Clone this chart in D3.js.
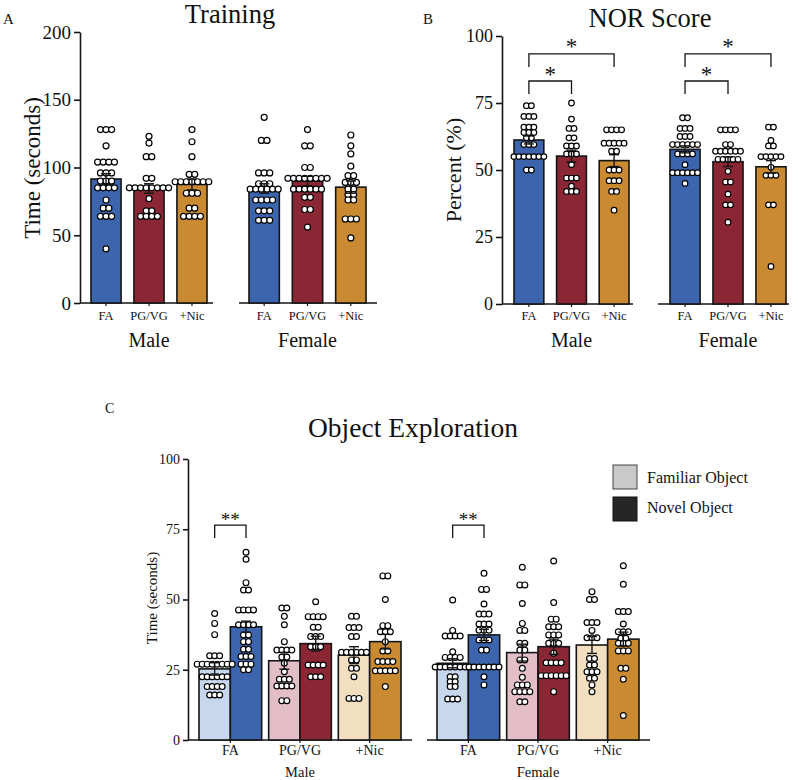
<!DOCTYPE html>
<html><head><meta charset="utf-8">
<script src="https://cdn.jsdelivr.net/npm/d3@7"></script>
<style>
body{margin:0;background:#fff}
svg{display:block}
text{font-family:"Liberation Serif","Times New Roman",serif;fill:#111}
</style>
</head><body>
<svg id="chart" width="798" height="780"></svg>
<script>
// ---------- DATA ----------
const groups = ["FA", "PG/VG", "+Nic"];
const sexes = ["Male", "Female"];
const objects = ["Familiar Object", "Novel Object"];

// Panel A: Training (seconds)
const trainTicks = [0, 50, 100, 150, 200];
const trainMaleMean = [91.5, 84.5, 87.5];
const trainMaleSem = [4, 3.5, 4];
const trainFemaleMean = [84.5, 90, 85.5];
const trainFemaleSem = [3.5, 3.5, 4.5];
const trainMaleDots = [
  [128,128,128,116,104,104,104,104,96,96,96,90,90,90,85,85,85,85,76,70,70,64,64,64,40],
  [123,118,108,108,92,92,85,85,85,85,85,85,85,85,77,68,68,64,64,64,64],
  [128,119,108,95,95,89.5,89.5,89.5,89.5,89.5,89.5,89.5,81,81,81,70,70,64,64,64,64]
];
const trainFemaleDots = [
  [137,120,120,96,96,96,88,88,88,84,84,84,84,84,84,76,76,76,76,68,68,68,61,61,61],
  [128,116,116,100,100,92,92,92,92,92,92,92,92,84,84,84,84,84,84,78,78,69,69,56],
  [124,116,110,101,94,94,89,89,89,84,84,80,80,76,76,62,62,62,48]
];

// Panel B: NOR score (%)
const norTicks = [0, 25, 50, 75, 100];
const norMaleMean = [61.2, 55.2, 53.5];
const norMaleSem = [1.5, 2.2, 2.2];
const norFemaleMean = [57.7, 53.1, 51.2];
const norFemaleSem = [1.3, 1.8, 2.3];
const norMaleDots = [
  [74,74,70,70,70,66,66,66,64,64,64,62,62,59.5,59.5,59.5,55,55,55,55,55,55,55,50,50],
  [75,69,65.5,65.5,62,62,59,59,59,56,56,56,52,47,47,47,44,42,42,42],
  [65,65,65,65,60,60,60,60,60,57,57,50,50,50,46,46,46,42,42,35]
];
const norFemaleDots = [
  [69.5,69.5,65.5,65.5,65.5,62.5,62.5,62.5,59.5,59.5,59.5,59.5,59.5,59.5,56,56,56,56,52,49,49,49,49,49,49,45],
  [65,65,65,65,59.5,59.5,57,57,57,57,57,57,54,54,54,54,54,49.5,45.5,45.5,41,37,37,30.5],
  [66,66,61,59,59,55,55,55,55,55,51,48,48,48,37,37,14]
];

// Panel C: Object exploration (seconds)
const objTicks = [0, 25, 50, 75, 100];
const objMaleFamMean = [25.3, 28.2, 30.2];
const objMaleFamSem = [2.2, 3, 3];
const objMaleNovMean = [40.3, 34.3, 35];
const objMaleNovSem = [2, 2.6, 2.6];
const objFemaleFamMean = [27.3, 31.1, 33.8];
const objFemaleFamSem = [1.6, 3, 3];
const objFemaleNovMean = [37.4, 33.2, 35.9];
const objFemaleNovSem = [2, 2.7, 2.5];
const objMaleFamDots = [
  [45,41.5,37.5,30,30,30,27,27,27,27,27,27,27,27,22.5,22.5,22.5,22.5,22.5,22.5,19,19,19,19,16,16,16],
  [47,47,44,41,35,32,32,32,32,29.5,29.5,27.3,24.3,21.6,21.6,21.6,19.2,19.2,19.2,19.2,14,14],
  [44,44,40,40,40,36.8,36.8,31.2,31.2,31.2,31.2,31.2,31.2,28.5,28.5,25.5,25.5,22.5,14.8,14.8,14.8]
];
const objMaleNovDots = [
  [66.8,64.3,56,53.4,53.4,46.3,46.3,46.3,46.3,41,41,41,41,37.4,37.4,35,35,32.3,32.3,29.7,29.7,29.7,27,27,27,25,25],
  [49.2,43.9,43.9,43.9,43.9,40.1,40.1,36.8,36.8,36.8,33.2,33.2,33.2,26.7,26.7,26.7,26.7,22.5,22.5,22.5],
  [58.4,58.4,50,40.7,40.7,38.5,38.5,38.5,35,31.7,31.7,27.9,27.9,27.9,27.9,24.6,24.6,24.6,24.6,24.6,19]
];
const objFemaleFamDots = [
  [49.8,39,37,37,37,37,31.4,29.4,29.4,29.4,29.4,26,26,26,26,26,26,26,26,22.5,22.5,20.7,20.7,19,19,14.6,14.6,14.6],
  [61.5,55.2,55.2,48.6,41.5,39,39,34.4,34.4,32,32,28.5,28.5,25.5,22.3,19.6,19.6,19.6,17.2,17.2,17.2,17.2,13.6,13.6],
  [52.8,50,50,41.8,41.8,41.8,39,36.4,36.4,36.4,29,29,26.7,26.7,24.3,24.3,24.3,22,22,19.6,17.2]
];
const objFemaleNovDots = [
  [59.3,53.6,53.6,48.4,44.8,44.8,44.8,41.3,41.3,41.3,39.1,39.1,39.1,35.6,35.6,35.6,32,32,26,26,26,26,26,26,26,22.5,19.6],
  [63.7,48.9,43,43,40.3,40.3,40.3,37.4,37.4,37.4,34.4,34.4,34.4,30.9,27.5,27.5,27.5,27.5,22.9,22.9,22.9,22.9,22.9,22.9,17.2],
  [62,55.4,45.7,45.7,45.7,41.3,38.5,38.5,38.5,36.2,36.2,34.4,34.4,34.4,31.7,31.7,31.7,25.5,25.5,21.6,8.7]
];

// ---------- STYLE ----------
const dark = ["#3D65AE", "#8B2735", "#C98A32"];
const light = ["#C6D7EE", "#E3BEC7", "#F2DFC0"];
const INK = "#151515";

const svg = d3.select("#chart");
svg.append("rect").attr("width", 798).attr("height", 780).attr("fill", "#fff");

function txt(g, x, y, s, size, anchor = "middle", extra = {}) {
  const t = g.append("text").attr("x", x).attr("y", y).attr("font-size", size)
    .attr("text-anchor", anchor).text(s);
  for (const k in extra) t.attr(k, extra[k]);
  return t;
}
function dots(g, vals, cx, y, r, step) {
  const counts = d3.rollup(vals, v => v.length, d => d);
  const idx = new Map();
  vals.forEach(v => {
    const n = counts.get(v), i = idx.get(v) || 0;
    idx.set(v, i + 1);
    g.append("circle").attr("cx", cx + (i - (n - 1) / 2) * step).attr("cy", y(v))
      .attr("r", r).attr("fill", "#fff").attr("stroke", "#000").attr("stroke-width", 1.2);
  });
}
function errbar(g, cx, y, m, s, half) {
  const p = g.append("g").attr("stroke", INK).attr("stroke-width", 1.4);
  p.append("line").attr("x1", cx).attr("x2", cx).attr("y1", y(m - s)).attr("y2", y(m + s));
  p.append("line").attr("x1", cx - half).attr("x2", cx + half).attr("y1", y(m - s)).attr("y2", y(m - s));
  p.append("line").attr("x1", cx - half).attr("x2", cx + half).attr("y1", y(m + s)).attr("y2", y(m + s));
}
function yAxis(g, x, y, ticks, size, tlen) {
  const a = g.append("g").attr("transform", `translate(${x},0)`)
    .call(d3.axisLeft(y).tickValues(ticks).tickSize(tlen).tickSizeOuter(0).tickPadding(3));
  a.select(".domain").attr("stroke", INK).attr("stroke-width", 1.6);
  a.selectAll(".tick line").attr("stroke", INK).attr("stroke-width", 1.6);
  a.selectAll(".tick text").attr("font-size", size).attr("fill", "#111")
    .attr("font-family", '"Liberation Serif","Times New Roman",serif');
  return a;
}
function hline(g, x0, x1, yy) {
  g.append("line").attr("x1", x0).attr("x2", x1).attr("y1", yy).attr("y2", yy)
    .attr("stroke", INK).attr("stroke-width", 1.6);
}

// ---------- simple bar panel (A, B) ----------
function simplePanel(o) {
  const g = svg.append("g");
  yAxis(g, o.axisX, o.y, o.ticks, o.tickFont, 6);
  o.segs.forEach(sg => {
    const x = d3.scaleBand().domain(groups).range(sg.range).paddingInner(0.3).paddingOuter(0);
    hline(g, sg.line[0], sg.line[1], o.y(0));
    groups.forEach((k, i) => {
      const cx = x(k) + x.bandwidth() / 2;
      g.append("rect").attr("x", x(k)).attr("y", o.y(sg.mean[i]))
        .attr("width", x.bandwidth()).attr("height", o.y(0) - o.y(sg.mean[i]))
        .attr("fill", dark[i]).attr("stroke", INK).attr("stroke-width", 1.6);
      dots(g, sg.dots[i], cx, o.y, o.r, o.step);
      errbar(g, cx, o.y, sg.mean[i], sg.sem[i], 5);
      g.append("line").attr("x1", cx).attr("x2", cx).attr("y1", o.y(0)).attr("y2", o.y(0) + 3)
        .attr("stroke", INK).attr("stroke-width", 1.2);
      txt(g, cx, o.catY, k, 12.5);
    });
    const mid = (x("FA") + x("+Nic") + x.bandwidth()) / 2;
    txt(g, mid, o.sexY, sg.name, 20);
    sg.x = x;
  });
  return g;
}

// Panel A
const yA = d3.scaleLinear().domain([0, 200]).range([303, 32]);
const gA = simplePanel({
  y: yA, axisX: 80, ticks: trainTicks, tickFont: 19, r: 3, step: 5.6, catY: 320, sexY: 347,
  segs: [
    {name: sexes[0], range: [91, 207], line: [80, 213], mean: trainMaleMean, sem: trainMaleSem, dots: trainMaleDots},
    {name: sexes[1], range: [249, 366], line: [239, 377], mean: trainFemaleMean, sem: trainFemaleSem, dots: trainFemaleDots}
  ]
});
txt(gA, 230, 23, "Training", 26.5);
txt(gA, 3, 24, "A", 15, "start");
txt(gA, 0, 0, "Time (seconds)", 23, "middle", {transform: "translate(40,168) rotate(-90)"});

// Panel B
const yB = d3.scaleLinear().domain([0, 100]).range([304, 36]);
const segsB = [
  {name: sexes[0], range: [514, 629], line: [502, 633], mean: norMaleMean, sem: norMaleSem, dots: norMaleDots},
  {name: sexes[1], range: [670, 786], line: [658, 789], mean: norFemaleMean, sem: norFemaleSem, dots: norFemaleDots}
];
const gB = simplePanel({
  y: yB, axisX: 502, ticks: norTicks, tickFont: 18, r: 2.8, step: 5, catY: 320, sexY: 347, segs: segsB
});
txt(gB, 650, 27, "NOR Score", 26.5);
txt(gB, 423, 24, "B", 15, "start");
txt(gB, 0, 0, "Percent (%)", 22, "middle", {transform: "translate(461,170) rotate(-90)"});
// significance brackets in B
segsB.forEach(sg => {
  const x = sg.x, c = k => x(k) + x.bandwidth() / 2;
  const br = (k2, top, bot) => {
    gB.append("path").attr("fill", "none").attr("stroke", INK).attr("stroke-width", 1.3)
      .attr("d", `M${c("FA")},${yB(bot)}V${yB(top)}H${c(k2)}V${yB(bot)}`);
    txt(gB, (c("FA") + c(k2)) / 2, yB(top) + 0.5, "*", 23);
  };
  br("PG/VG", 83.2, 78.4);
  br("+Nic", 93.3, 88.4);
});

// Panel C
const yC = d3.scaleLinear().domain([0, 100]).range([740, 459]);
const gC = svg.append("g");
yAxis(gC, 188, yC, objTicks, 14, 5);
const segsC = [
  {name: sexes[0], range: [199, 401], line: [188, 412], fam: objMaleFamMean, famSem: objMaleFamSem, nov: objMaleNovMean, novSem: objMaleNovSem, famDots: objMaleFamDots, novDots: objMaleNovDots},
  {name: sexes[1], range: [437, 639], line: [427, 650], fam: objFemaleFamMean, famSem: objFemaleFamSem, nov: objFemaleNovMean, novSem: objFemaleNovSem, famDots: objFemaleFamDots, novDots: objFemaleNovDots}
];
segsC.forEach(sg => {
  const x = d3.scaleBand().domain(groups).range(sg.range).paddingInner(0.1).paddingOuter(0);
  const xs = d3.scaleBand().domain(objects).range([0, x.bandwidth()]).padding(0);
  hline(gC, sg.line[0], sg.line[1], yC(0));
  groups.forEach((k, i) => {
    const sets = [
      {obj: objects[0], m: sg.fam[i], s: sg.famSem[i], d: sg.famDots[i], col: light[i]},
      {obj: objects[1], m: sg.nov[i], s: sg.novSem[i], d: sg.novDots[i], col: dark[i]}
    ];
    sets.forEach(st => {
      gC.append("rect").attr("x", x(k) + xs(st.obj)).attr("y", yC(st.m))
        .attr("width", xs.bandwidth()).attr("height", yC(0) - yC(st.m))
        .attr("fill", st.col).attr("stroke", INK).attr("stroke-width", 1.6);
    });
    sets.forEach(st => {
      const cx = x(k) + xs(st.obj) + xs.bandwidth() / 2;
      dots(gC, st.d, cx, yC, 2.9, 5);
      errbar(gC, cx, yC, st.m, st.s, 5);
    });
    const gcx = x(k) + x.bandwidth() / 2;
    gC.append("line").attr("x1", gcx).attr("x2", gcx).attr("y1", yC(0)).attr("y2", yC(0) + 3)
      .attr("stroke", INK).attr("stroke-width", 1.2);
    txt(gC, gcx, 755, k, 14);
  });
  txt(gC, x("PG/VG") + x.bandwidth() / 2, 777, sg.name, 14.5);
  // ** bracket on FA
  const c1 = x("FA") + xs(objects[0]) + xs.bandwidth() / 2;
  const c2 = x("FA") + xs(objects[1]) + xs.bandwidth() / 2;
  gC.append("path").attr("fill", "none").attr("stroke", INK).attr("stroke-width", 1.3)
    .attr("d", `M${c1},${yC(71.9)}V${yC(76.5)}H${c2}V${yC(71.9)}`);
  txt(gC, (c1 + c2) / 2, 526, "**", 19);
});
txt(gC, 413, 437, "Object Exploration", 27.5);
txt(gC, 105, 413, "C", 14, "start");
txt(gC, 0, 0, "Time (seconds)", 15, "middle", {transform: "translate(157,598) rotate(-90)"});
// legend
const leg = gC.append("g");
[["#C9C9C9", "#444"], ["#262626", "#111"]].forEach((c, i) => {
  leg.append("rect").attr("x", 613).attr("y", 465 + i * 32).attr("width", 24).attr("height", 24)
    .attr("fill", c[0]).attr("stroke", c[1]).attr("stroke-width", 1);
  txt(leg, 647, 483 + i * 30, objects[i], 16, "start");
});
</script>
</body></html>
